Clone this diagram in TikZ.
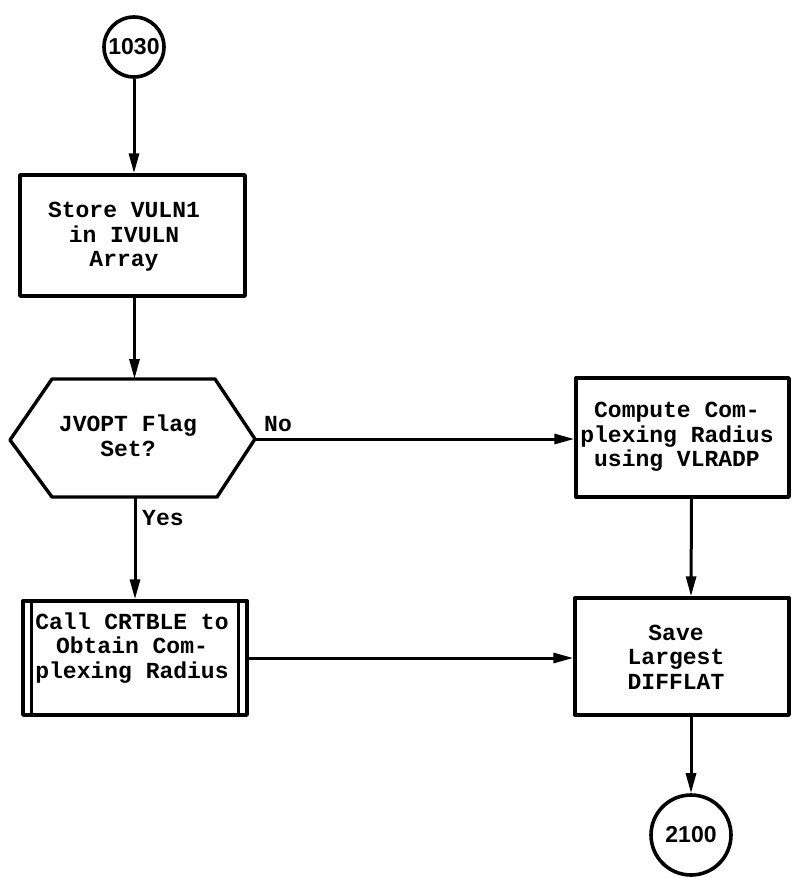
\documentclass[tikz,border=0pt]{standalone}
\usepackage{fontspec}
\setmainfont{Liberation Serif}
\newfontfamily\typew{Liberation Mono}
\newfontfamily\circfont{Liberation Sans}
\usetikzlibrary{arrows.meta}
\begin{document}
\begin{tikzpicture}[x=1pt,y=-1pt,
  line join=round,
  rbox/.style 2 args={draw, line width=3.4pt, minimum width=#1, minimum height=#2, inner sep=0pt},
  txt/.style={align=center, font=\typew\bfseries\fontsize{23}{24.5}\selectfont, inner sep=0pt},
  lbl/.style={font=\typew\bfseries\fontsize{23}{24.5}\selectfont, inner sep=0pt},
  conn/.style={line width=3pt, -{Triangle[length=20pt,width=10pt]}},
  term/.style={circle, draw, line width=3.6pt, inner sep=0pt, font=\circfont\bfseries\fontsize{23}{23}\selectfont}
]
\useasboundingbox (0,0) rectangle (792,878);

% start terminal
\node[term, minimum size=60pt] (c1030) at (134,47) {1030};

% store box
\node[rbox={225pt}{121pt}] (store) at (132.5,235.5) {};
\node[txt] (storet) at (124,237) {Store VULN1\\in IVULN\\Array};

% hexagon decision
\coordinate (hL) at (10,440);
\coordinate (hTL) at (52,379);
\coordinate (hTR) at (215,379);
\coordinate (hR) at (255,439);
\coordinate (hBR) at (217,497);
\coordinate (hBL) at (52,497);
\coordinate (hT) at (135,379);
\coordinate (hB) at (135,497);
\draw[line width=3.4pt] (hL) -- (hTL) -- (hTR) -- (hR) -- (hBR) -- (hBL) -- cycle;
\node[txt] (hext) at (128,436) {JVOPT Flag\\Set?};

% compute box
\node[rbox={213pt}{119pt}] (comp) at (682.5,437.5) {};
\node[txt] (compt) at (677,437) {Compute Com-\\plexing Radius\\using VLRADP};

% call box (predefined process)
\node[rbox={224pt}{114pt}] (call) at (135,658) {};
\draw[line width=2.6pt] ([xshift=10pt]call.north west) -- ([xshift=10pt]call.south west);
\draw[line width=2.6pt] ([xshift=-10pt]call.north east) -- ([xshift=-10pt]call.south east);
\node[txt] (callt) at (132,648) {Call CRTBLE to\\Obtain Com-\\plexing Radius};

% save box
\node[rbox={214pt}{117pt}] (save) at (682,656.5) {};
\node[txt] (savet) at (676,657) {Save\\Largest\\DIFFLAT};

% end terminal
\node[term, minimum size=80pt] (c2100) at (691,835) {2100};

% connectors
\draw[conn] (c1030) -- (store.north -| c1030);
\draw[conn] ([xshift=2pt]store.south) -- ([xshift=2pt]store.south |- hT);
\draw[conn] (hR) -- (comp.west |- hR);
\draw[conn] (hB) -- (call.north);
\draw[conn] ([xshift=9pt]comp.south) -- ([xshift=9pt]save.north);
\draw[conn] (call.east) -- (save.west |- call.east);
\draw[conn] ([xshift=9pt]save.south) -- (c2100.north);

% labels
\node[lbl, anchor=west] (no) at (264,424) {No};
\node[lbl, anchor=west] (yes) at (142,518) {Yes};
\end{tikzpicture}
\end{document}
